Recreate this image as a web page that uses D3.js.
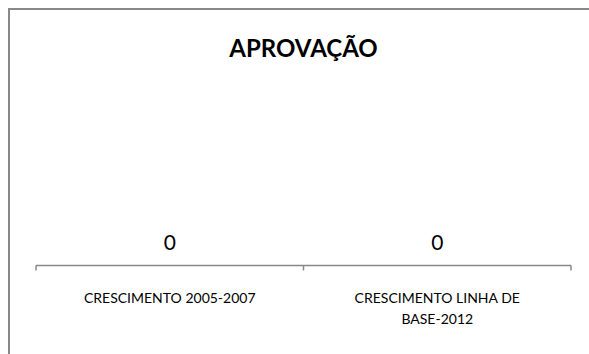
<!DOCTYPE html>
<html>
<head>
<meta charset="utf-8">
<script src="https://cdn.jsdelivr.net/npm/d3@7"></script>
<style>
  html, body { margin: 0; padding: 0; background: #fff; overflow: hidden; }
  svg { display: block; }
  text { font-family: Lato, "Open Sans", "DejaVu Sans", sans-serif; fill: #000; }
</style>
</head>
<body>
<svg id="chart" width="589" height="354"></svg>
<script>
// Chart data
const title = "APROVAÇÃO";
const categories = ["CRESCIMENTO 2005-2007", "CRESCIMENTO LINHA DE BASE-2012"];
const categoryLines = [["CRESCIMENTO 2005-2007"], ["CRESCIMENTO LINHA DE", "BASE-2012"]];
const values = [0, 0];

const svg = d3.select("#chart");

// Chart area frame (extends past the right and bottom edges of the view)
svg.append("rect")
  .attr("x", 9).attr("y", 9)
  .attr("width", 620).attr("height", 400)
  .attr("fill", "#fff")
  .attr("stroke", "#888").attr("stroke-width", 2);

const plot = { left: 36, right: 571, top: 90, bottom: 265.5 };

const x = d3.scaleBand()
  .domain(categories)
  .range([plot.left, plot.right])
  .paddingInner(0).paddingOuter(0);

const y = d3.scaleLinear()
  .domain([0, 1])
  .range([plot.bottom, plot.top]);

// Title
svg.append("text")
  .attr("x", 303.5).attr("y", 57)
  .attr("text-anchor", "middle")
  .style("font-size", "24px").style("font-weight", "bold")
  .text(title);

// Bars (zero-height at these values)
svg.append("g").selectAll("rect")
  .data(values)
  .join("rect")
  .attr("x", (d, i) => x(categories[i]) + x.bandwidth() * 0.2)
  .attr("width", x.bandwidth() * 0.6)
  .attr("y", d => y(d))
  .attr("height", d => y(0) - y(d))
  .attr("fill", "#4f81bd");

// Value labels
svg.append("g").selectAll("text")
  .data(values)
  .join("text")
  .attr("x", (d, i) => x(categories[i]) + x.bandwidth() / 2)
  .attr("y", d => y(d) - 15.5)
  .attr("text-anchor", "middle")
  .style("font-size", "21px")
  .text(d => d);

// Category axis with ticks between categories
const axisG = svg.append("g").attr("transform", `translate(0,${plot.bottom})`);
axisG.append("line")
  .attr("x1", plot.left).attr("x2", plot.right)
  .attr("stroke", "#888").attr("stroke-width", 1.5);
const tickPos = categories.map(c => x(c)).concat([x(categories[categories.length - 1]) + x.bandwidth()]);
axisG.selectAll("line.tick")
  .data(tickPos)
  .join("line")
  .attr("class", "tick")
  .attr("x1", d => d).attr("x2", d => d)
  .attr("y1", 0).attr("y2", 5)
  .attr("stroke", "#888").attr("stroke-width", 1.5);

// Category labels (wrapped)
const lab = axisG.selectAll("text.cat")
  .data(categories)
  .join("text")
  .attr("class", "cat")
  .attr("text-anchor", "middle")
  .attr("transform", d => `translate(${x(d) + x.bandwidth() / 2},37.5)`)
  .style("font-size", "14px");
lab.each(function(d, i) {
  d3.select(this).selectAll("tspan")
    .data(categoryLines[i])
    .join("tspan")
    .attr("x", 0)
    .attr("dy", (t, j) => j === 0 ? 0 : 21)
    .text(t => t);
});
</script>
</body>
</html>
